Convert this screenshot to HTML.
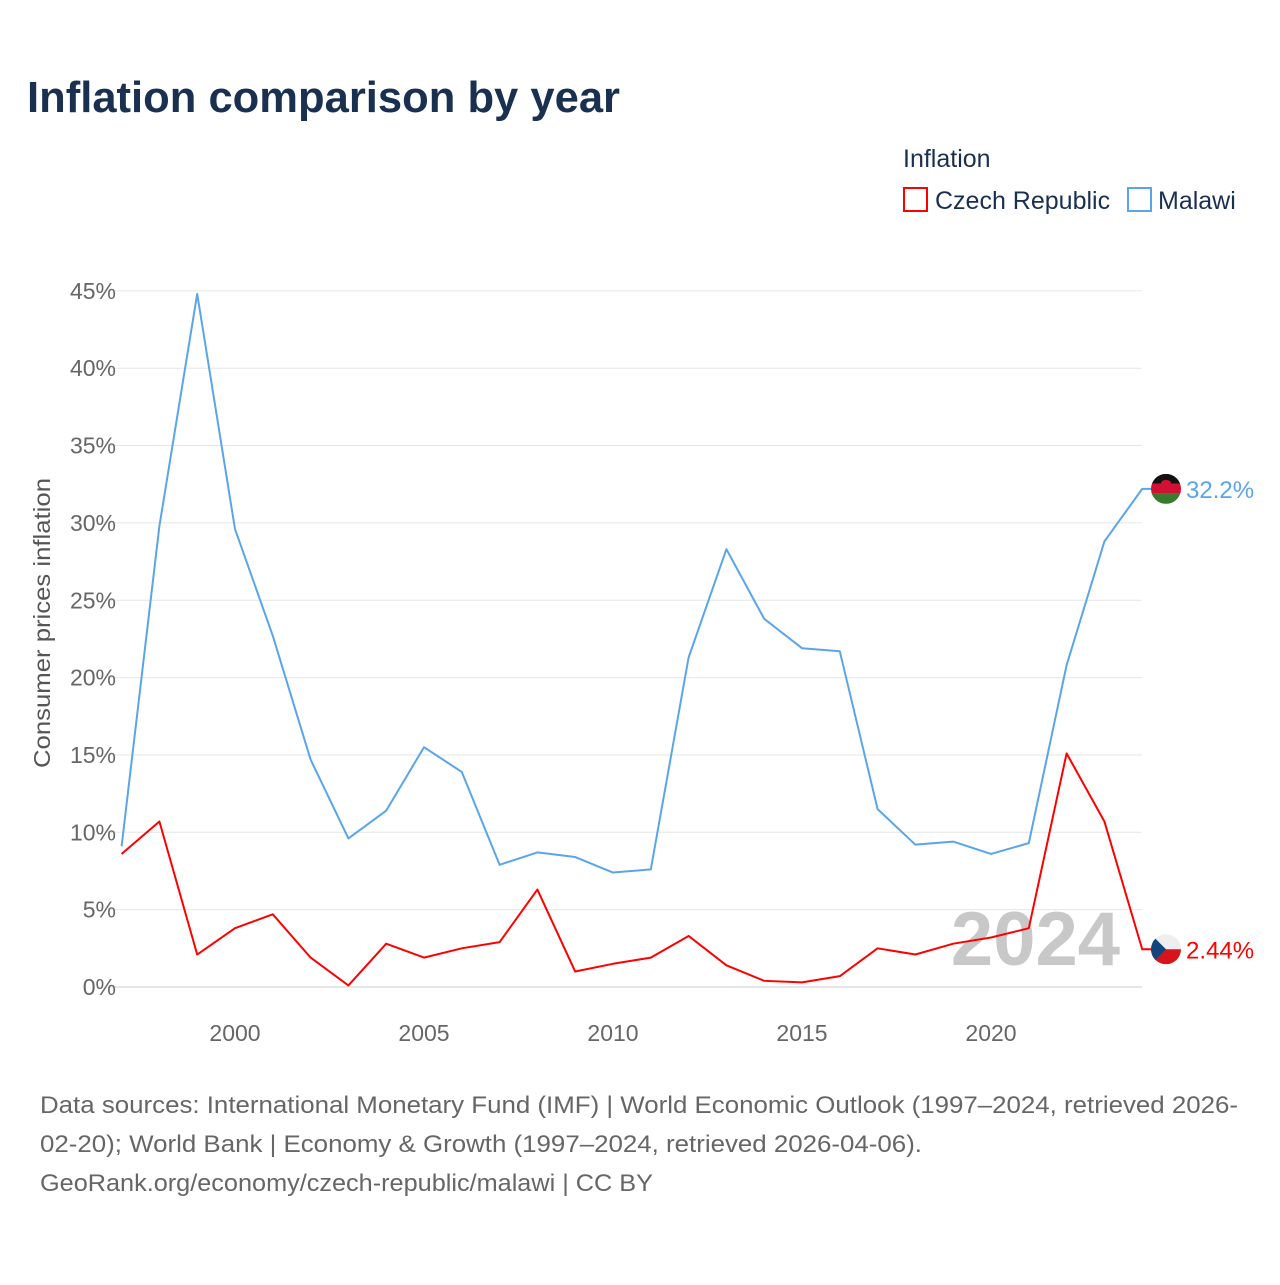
<!DOCTYPE html>
<html><head><meta charset="utf-8"><style>
body{margin:0;background:#fff;font-family:"Liberation Sans",sans-serif}
</style></head><body>
<svg width="1280" height="1280" xmlns="http://www.w3.org/2000/svg" id="chart" font-family="Liberation Sans, sans-serif">
<text x="27" y="112" font-size="44" font-weight="bold" fill="#1a3050" textLength="593" lengthAdjust="spacingAndGlyphs">Inflation comparison by year</text>
<text x="903" y="167" font-size="25" fill="#1a3050">Inflation</text>
<g><rect x="904" y="188" width="23" height="23" fill="none" stroke="#f00" stroke-width="2"/><text x="935" y="209" font-size="25" fill="#1a3050">Czech Republic</text></g>
<g><rect x="1128" y="188" width="23" height="23" fill="none" stroke="#5aa5ea" stroke-width="2"/><text x="1158" y="209" font-size="25" fill="#1a3050">Malawi</text></g>
<text transform="translate(50,623) rotate(-90)" text-anchor="middle" font-size="23" fill="#555" textLength="290" lengthAdjust="spacingAndGlyphs">Consumer prices inflation</text>
<g id="grid"></g><g id="xt"></g>
<text x="1120" y="965" text-anchor="end" font-size="76" font-weight="bold" fill="#c8c8c8">2024</text>
<g id="lines"></g>
<text x="40" y="1113" font-size="24" fill="#666" textLength="1198" lengthAdjust="spacingAndGlyphs">Data sources: International Monetary Fund (IMF) | World Economic Outlook (1997–2024, retrieved 2026-</text>
<text x="40" y="1152" font-size="24" fill="#666" textLength="882" lengthAdjust="spacingAndGlyphs">02-20); World Bank | Economy &amp; Growth (1997–2024, retrieved 2026-04-06).</text>
<text x="40" y="1191" font-size="24" fill="#666" textLength="613" lengthAdjust="spacingAndGlyphs">GeoRank.org/economy/czech-republic/malawi | CC BY</text>
</svg>
<script>
const years=[1997,1998,1999,2000,2001,2002,2003,2004,2005,2006,2007,2008,2009,2010,2011,2012,2013,2014,2015,2016,2017,2018,2019,2020,2021,2022,2023,2024];
const malawi=[9.1,29.8,44.8,29.6,22.7,14.7,9.6,11.4,15.5,13.9,7.9,8.7,8.4,7.4,7.6,21.3,28.3,23.8,21.9,21.7,11.5,9.2,9.4,8.6,9.3,20.8,28.8,32.2];
const czech=[8.6,10.7,2.1,3.8,4.7,1.9,0.1,2.8,1.9,2.5,2.9,6.3,1.0,1.5,1.9,3.3,1.4,0.4,0.3,0.7,2.5,2.1,2.8,3.2,3.8,15.1,10.7,2.44];
const yTicks=[0,5,10,15,20,25,30,35,40,45];
const xTicks=[2000,2005,2010,2015,2020];
const NS="http://www.w3.org/2000/svg";
const X=y=>121.6+(y-1997)*37.8, Y=v=>987-v*15.47;
function mk(t,a,p){const e=document.createElementNS(NS,t);for(const k in a)e.setAttribute(k,a[k]);p.appendChild(e);return e;}
const grid=document.getElementById('grid');
yTicks.forEach(v=>{
 const l=mk('line',{x1:108,x2:1142,y1:Y(v),y2:Y(v),stroke:v===0?'#ccc':'#e6e6e6','stroke-width':1},grid);
 
 
 const t=mk('text',{x:116,y:Y(v)+8,'text-anchor':'end','font-size':23,fill:'#666'},grid);t.textContent=v+'%';
 
 
});
const xt=document.getElementById('xt');
xTicks.forEach(v=>{const t=mk('text',{x:X(v),y:1041,'text-anchor':'middle','font-size':23,fill:'#666'},xt);t.textContent=v;
 
 });
const g=document.getElementById('lines');
function series(vals,col,name,label,flag){
 const pts=vals.map((v,i)=>X(years[i])+','+Y(v)).join(' ');
 const last=Y(vals[vals.length-1]);
 const p=mk('polyline',{points:pts+' '+(X(2024)+10)+','+last,fill:'none',stroke:col,'stroke-width':2,'stroke-linejoin':'round'},g);
 
 
 const f=mk('g',{},g);
 
 
 const cx=1166,r=15;
 const cp=mk('clipPath',{id:'c'+name},f);mk('circle',{cx:cx,cy:last,r:r},cp);
 const fg=mk('g',{'clip-path':'url(#c'+name+')'},f);
 flag(fg,cx,last,r);
 const t=mk('text',{x:1186,y:last+9,'font-size':24,fill:col},g);t.textContent=label;
 
 
}
series(malawi,'#5aa5ea','malawi','32.2%',(fg,cx,cy,r)=>{
 mk('rect',{x:cx-r,y:cy-r,width:2*r,height:r*2/3,fill:'#111'},fg);
 mk('rect',{x:cx-r,y:cy-r/3,width:2*r,height:r*2/3,fill:'#d21034'},fg);
 mk('rect',{x:cx-r,y:cy+r/3,width:2*r,height:r*2/3,fill:'#3a7a2f'},fg);
 mk('ellipse',{cx:cx,cy:cy-r/3-1,rx:5,ry:3,fill:'#d21034'},fg);
});
series(czech,'#f00','czech','2.44%',(fg,cx,cy,r)=>{
 mk('rect',{x:cx-r,y:cy-r,width:2*r,height:r,fill:'#eee'},fg);
 mk('rect',{x:cx-r,y:cy,width:2*r,height:r,fill:'#d7141a'},fg);
 mk('polygon',{points:(cx-r)+','+(cy-r)+' '+cx+','+cy+' '+(cx-r)+','+(cy+r),fill:'#11457e'},fg);
});
</script>
</body></html>
